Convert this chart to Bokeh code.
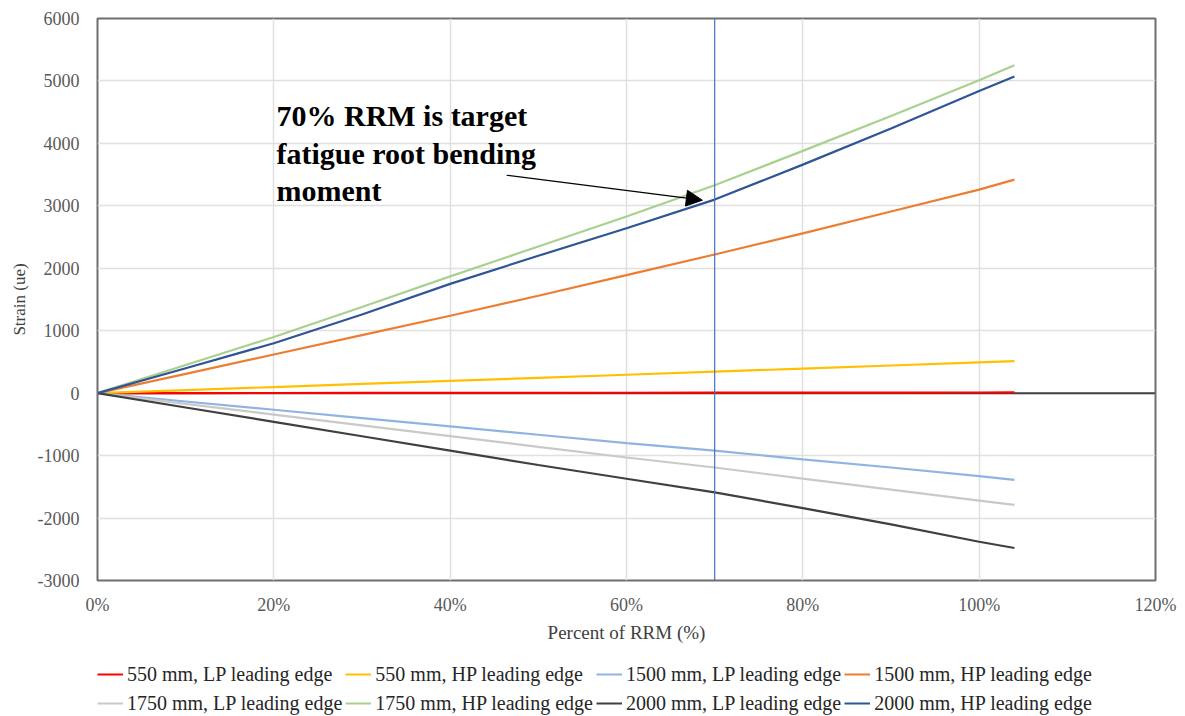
from bokeh.plotting import figure
from bokeh.layouts import column
from bokeh.models import (Range1d, FixedTicker, PrintfTickFormatter, Span, Label,
                          Arrow, NormalHead, Legend, LegendItem)
from bokeh.embed import file_html
from bokeh.resources import INLINE

# Percent of RRM at which strain was sampled
rrm_pct = [0, 10, 20, 30, 40, 50, 60, 70, 80, 90, 100, 104]

# Strain (ue) for each gauge
lp_550 = [0, 2, 3, 4, 5, 6, 7, 8, 9, 10, 11, 12]
hp_550 = [0, 49, 98, 148, 197, 246, 295, 345, 394, 443, 492, 512]
lp_1500 = [0, -133, -266, -400, -533, -666, -800, -920, -1060, -1190, -1330, -1390]
hp_1500 = [0, 310, 620, 930, 1240, 1560, 1890, 2220, 2560, 2910, 3260, 3420]
lp_1750 = [0, -172, -344, -516, -688, -860, -1030, -1190, -1370, -1545, -1720, -1790]
hp_1750 = [0, 450, 900, 1380, 1870, 2350, 2830, 3330, 3880, 4440, 5010, 5250]
lp_2000 = [0, -230, -460, -690, -920, -1150, -1370, -1590, -1840, -2100, -2380, -2480]
hp_2000 = [0, 400, 800, 1260, 1750, 2200, 2640, 3100, 3660, 4240, 4840, 5070]

series_names = [
    "550 mm, LP leading edge", "550 mm, HP leading edge",
    "1500 mm, LP leading edge", "1500 mm, HP leading edge",
    "1750 mm, LP leading edge", "1750 mm, HP leading edge",
    "2000 mm, LP leading edge", "2000 mm, HP leading edge",
]
series_values = [lp_550, hp_550, lp_1500, hp_1500, lp_1750, hp_1750, lp_2000, hp_2000]
series_colors = ["#FF0000", "#FFC000", "#8FB4E3", "#ED7D31",
                 "#C9C9C9", "#A9D18E", "#404040", "#2F5597"]

x_ticks = [0, 20, 40, 60, 80, 100, 120]
y_ticks = [-3000, -2000, -1000, 0, 1000, 2000, 3000, 4000, 5000, 6000]
target_pct = 70

FONT = "Liberation Serif"

p = figure(width=1185, height=650, output_backend="svg", toolbar_location=None,
           x_range=Range1d(0, 120), y_range=Range1d(-3000, 6000),
           min_border_left=97, min_border_right=30, min_border_top=18,
           min_border_bottom=70)

p.background_fill_color = "white"
p.border_fill_color = "white"
p.outline_line_color = "#6E6E6E"
p.outline_line_width = 2

for ax in (p.xaxis[0], p.yaxis[0]):
    ax.axis_line_color = None
    ax.major_tick_line_color = None
    ax.minor_tick_line_color = None
    ax.major_label_text_font = FONT
    ax.major_label_text_font_size = "18px"
    ax.major_label_text_color = "#595959"
    ax.axis_label_text_font = FONT
    ax.axis_label_text_font_style = "normal"
    ax.axis_label_text_color = "#404040"

p.xaxis.ticker = FixedTicker(ticks=x_ticks)
p.xaxis.formatter = PrintfTickFormatter(format="%d%%")
p.xaxis.major_label_standoff = 8
p.xaxis.axis_label = "Percent of RRM (%)"
p.xaxis.axis_label_text_font_size = "19px"
p.xaxis.axis_label_standoff = 4

p.yaxis.ticker = FixedTicker(ticks=y_ticks)
p.yaxis.formatter = PrintfTickFormatter(format="%d")
p.yaxis.major_label_standoff = 12
p.yaxis.axis_label = "Strain (ue)"
p.yaxis.axis_label_text_font_size = "17px"
p.yaxis.axis_label_standoff = 6

p.xgrid.ticker = FixedTicker(ticks=x_ticks)
p.ygrid.ticker = FixedTicker(ticks=y_ticks)
p.grid.grid_line_color = "#E0E0E0"
p.grid.grid_line_width = 1.5

# zero strain baseline, kept beneath the data lines
p.add_layout(Span(location=0, dimension="width", line_color="#404040",
                  line_width=2, level="underlay"))

for vals, col in zip(series_values, series_colors):
    p.line(rrm_pct, vals, line_color=col, line_width=2.2)

# target load marker
p.add_layout(Span(location=target_pct, dimension="height",
                  line_color="#4472C4", line_width=1.2))

note_lines = ["70% RRM is target", "fatigue root bending", "moment"]
note_y = [4450, 3840, 3250]
for txt, yy in zip(note_lines, note_y):
    p.add_layout(Label(x=20.3, y=yy, text=txt, text_font=FONT,
                       text_font_size="30px", text_font_style="bold",
                       text_color="black", text_baseline="middle"))

p.add_layout(Arrow(x_start=46.4, y_start=3490, x_end=68.6, y_end=3090,
                   line_color="black", line_width=1.2,
                   end=NormalHead(size=16, fill_color="black", line_color="black")))

# legend strip below the chart; its series sit outside the strip's visible range
leg = figure(width=1185, height=66, output_backend="svg", toolbar_location=None,
             x_axis_type=None, y_axis_type=None, x_range=Range1d(500, 600),
             y_range=Range1d(0, 1), min_border=0, outline_line_color=None)
leg.grid.visible = False

renderers = [leg.line(rrm_pct, vals, line_color=col, line_width=2)
             for vals, col in zip(series_values, series_colors)]
# legend fills column by column: pair each top-row entry with the one below it
order = [0, 4, 1, 5, 2, 6, 3, 7]
items = [LegendItem(label=series_names[i], renderers=[renderers[i]]) for i in order]

legend = Legend(items=items, ncols=4, location=(0, 0),
                label_text_font=FONT, label_text_font_size="20px",
                label_text_color="#262626", glyph_width=26, glyph_height=14,
                label_standoff=4, spacing=3, padding=0, margin=0,
                border_line_color=None, background_fill_alpha=0,
                label_height=26)
leg.add_layout(legend, "center")

open("out.html", "w").write(file_html(column(p, leg, spacing=0), INLINE))
